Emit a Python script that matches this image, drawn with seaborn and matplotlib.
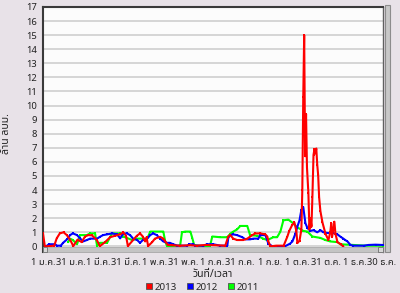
import matplotlib
matplotlib.use("Agg")
import numpy as np
import pandas as pd
import seaborn as sns
import matplotlib.pyplot as plt
from matplotlib.lines import Line2D
from matplotlib.patches import Rectangle
from matplotlib import font_manager

# ---------------- data (day of year, value in million m3) ----------------
days_2013 = [0, 2, 7.5, 12, 14.7, 18, 22, 25.5, 29, 32.5, 37, 41.5, 45, 48.6, 52.6, 57.7, 61,
             66.5, 72, 77, 82.7, 86, 89, 91, 96.6, 100.6, 104, 107, 109.5, 111, 112.7, 117,
             120, 125.6, 129, 131, 134, 138.5, 147, 158, 165, 174, 184.7, 195.4, 198.6, 200.8,
             204, 208, 214.7, 219, 224.4, 227.6, 233, 238.4, 240.5, 241.6, 243.7, 250, 258,
             262, 264, 267, 269.5, 271.6, 272.7, 275, 277, 278, 279, 280, 281, 282, 283,
             284.5, 285.6, 286.7, 287.8, 288.8, 290, 291, 292, 293, 294, 295, 296, 297.4,
             299.6, 302.8, 306, 308, 309, 310, 312.4, 313.5, 315.7, 319, 322]
vals_2013 = [0.92, 0.0, 0.02, 0.05, 0.57, 0.92, 1.0, 0.8, 0.48, 0.02, 0.48, 0.3, 0.7, 0.8, 0.78,
             0.45, 0.02, 0.3, 0.65, 0.75, 0.85, 1.0, 0.75, 0.02, 0.45, 0.75, 0.92, 0.7, 0.35,
             0.65, 0.02, 0.3, 0.55, 0.68, 0.55, 0.35, 0.1, 0.08, 0.05, 0.08, 0.05, 0.1, 0.08,
             0.05, 0.7, 0.8, 0.55, 0.45, 0.45, 0.55, 0.8, 0.92, 0.92, 0.85, 0.7, 0.35, 0.0,
             0.05, 0.05, 0.7, 1.1, 1.5, 1.7, 1.1, 0.23, 0.4, 1.2, 4.0, 10.6, 15.0, 6.4, 9.4,
             5.6, 3.8, 1.2, 2.0, 1.4, 3.5, 6.5, 6.9, 6.6, 6.95, 5.8, 5.05, 3.5, 2.5, 1.7, 0.9,
             0.45, 1.0, 1.65, 0.7, 1.75, 0.9, 0.3, 0.15, 0.0]

days_2012 = [4.3, 6.4, 13, 15, 19, 21.5, 25.8, 29, 32, 36.5, 39.7, 43, 47, 50.5, 58, 61, 64.4,
             68.7, 74, 79.5, 82.7, 86, 90, 93.4, 96.6, 101, 104, 107, 111.7, 115, 118, 122,
             125.6, 129, 133, 136, 139.6, 144, 154.6, 156.8, 161, 163, 171.8, 176, 182.5, 190,
             197.6, 198.6, 200.8, 204, 208, 213.7, 216.9, 222, 225.5, 230.8, 233, 238.4, 241.6,
             245.9, 259.8, 265, 267.4, 270.6, 272.7, 275, 277, 279, 281.3, 283.5, 286.7, 290,
             294, 297.4, 300.6, 305, 311, 315.7, 319, 322, 324, 326.4, 329.6, 332.8, 343.6,
             349, 356.5, 364]
vals_2012 = [0.05, 0.15, 0.15, 0.05, 0.05, 0.25, 0.5, 0.8, 0.92, 0.8, 0.57, 0.35, 0.45, 0.55,
             0.55, 0.68, 0.8, 0.85, 0.92, 0.85, 0.57, 0.9, 0.92, 0.8, 0.55, 0.45, 0.25, 0.45,
             0.55, 0.8, 0.92, 0.8, 0.55, 0.35, 0.25, 0.25, 0.15, 0.05, 0.05, 0.15, 0.15, 0.05,
             0.05, 0.15, 0.15, 0.05, 0.05, 0.6, 0.8, 0.85, 0.8, 0.65, 0.5, 0.5, 0.55, 0.55, 0.8,
             0.8, 0.2, 0.0, 0.02, 0.2, 0.35, 0.9, 1.4, 1.85, 2.6, 2.8, 1.65, 1.3, 1.1, 1.15,
             1.0, 1.15, 1.0, 0.95, 0.95, 0.85, 0.68, 0.55, 0.45, 0.35, 0.1, 0.05, 0.05, 0.1,
             0.12, 0.1]

days_2011 = [27, 29, 32, 36.5, 39.7, 47, 50.5, 55.8, 58, 61, 68.7, 74, 82.7, 86, 95.6, 101,
             111.7, 115, 129, 131, 133, 147, 149, 152.5, 158, 160, 162, 168.6, 179, 181.5, 190,
             197.6, 200.8, 204, 208, 211.5, 219, 222, 229.8, 236, 240.5, 247, 251, 254.5,
             257.7, 263, 268, 272.7, 279, 283.5, 288.8, 297.4, 302.8, 308, 315.7, 319, 332.8,
             345.7, 364]
vals_2011 = [0.3, 0.55, 0.45, 0.15, 0.8, 0.8, 0.92, 0.92, 0.02, 0.25, 0.25, 0.92, 0.92, 0.7,
             0.45, 0.55, 0.55, 1.05, 1.05, 0.35, 0.02, 0.05, 1.0, 1.05, 1.05, 0.6, 0.1, 0.02,
             0.02, 0.7, 0.65, 0.65, 0.9, 1.05, 1.2, 1.45, 1.45, 0.8, 0.75, 0.55, 0.45, 0.65,
             0.65, 1.05, 1.85, 1.9, 1.65, 1.35, 1.1, 1.05, 0.7, 0.6, 0.45, 0.35, 0.3, 0.15, 0.1,
             0.05, 0.05]

series_names = ["2013", "2012", "2011"]
series_colors = ["#ff0000", "#0000ff", "#00ff00"]
tick_days = [0, 30, 59, 89, 120, 150, 181, 211, 243, 273, 303, 334, 363]
tick_labels = ["1 ม.ค.", "31 ม.ค.", "1 มี.ค.", "31 มี.ค.", "1 พ.ค.", "31 พ.ค.", "1 ก.ค.",
               "31 ก.ค.", "1 ก.ย.", "1 ต.ค.", "31 ต.ค.", "1 ธ.ค.", "30 ธ.ค."]
y_ticks = list(range(0, 18))
x_title = "วันที่/เวลา"
y_title = "ล้าน ลบม."

# ---------------- font with Thai glyphs ----------------
def find_thai_family():
    try:
        from fontTools.ttLib import TTFont
    except Exception:
        return None
    cands = []
    for f in font_manager.fontManager.ttflist:
        try:
            tt = TTFont(f.fname, fontNumber=0, lazy=True)
            cmap = tt.getBestCmap() or {}
            if 0x0E25 in cmap and 0x0E19 in cmap and 0x0E49 in cmap:
                cands.append(f.name)
        except Exception:
            pass
    for pref in ["DejaVu Sans", "Noto Sans Thai", "Noto Sans", "Tahoma"]:
        if pref in cands:
            return pref
    return cands[0] if cands else None

sns.set_theme(style="white")
thai = find_thai_family()
fams = [thai, "DejaVu Sans"] if thai and thai != "DejaVu Sans" else ["DejaVu Sans"]
plt.rcParams["font.family"] = fams

# ---------------- data frame ----------------
frames = []
for name, d, v in [("2011", days_2011, vals_2011), ("2012", days_2012, vals_2012),
                   ("2013", days_2013, vals_2013)]:
    frames.append(pd.DataFrame({"day": d, "value": v, "year": name}))
df = pd.concat(frames, ignore_index=True)
palette = dict(zip(series_names, series_colors))

# ---------------- figure ----------------
W, H = 400, 293
bg = "#e8e2e8"
fig = plt.figure(figsize=(W / 100, H / 100), dpi=100, facecolor=bg)
ax = fig.add_axes([43 / W, 1 - 252 / H, 340 / W, (252 - 7) / H])
ax.set_facecolor("#fcfcfc")

y_top = 17.0
y_bot = -0.40
ax.set_ylim(y_bot, y_top)
ax.set_xlim(0, 364.5)

for yv in range(0, 17):
    ax.axhline(yv, color="#d2d2d2", lw=1.3, zorder=0)

sns.lineplot(data=df, x="day", y="value", hue="year", hue_order=["2011", "2012", "2013"],
             palette=palette, estimator=None, sort=False, legend=False, ax=ax,
             linewidth=1.5, marker="s", markersize=1.8, markeredgewidth=0, zorder=3)

# bottom scroll bar
ax.add_patch(Rectangle((0, y_bot), 1, 0.36, transform=ax.get_yaxis_transform(),
                       facecolor="#c4c4c4", edgecolor="#a8a8a8", lw=0.6, zorder=4,
                       clip_on=False))
ax.add_patch(Rectangle((0, y_bot), 0.012, 0.36, transform=ax.get_yaxis_transform(),
                       facecolor="#d8d8d8", edgecolor="#707070", lw=0.6, zorder=5,
                       clip_on=False))
ax.add_patch(Rectangle((0.985, y_bot), 0.015, 0.36, transform=ax.get_yaxis_transform(),
                       facecolor="#d8d8d8", edgecolor="#707070", lw=0.6, zorder=5,
                       clip_on=False))
# right vertical bar
fig.patches.append(Rectangle((385 / W, 1 - 252 / H), 5 / W, (252 - 5) / H,
                             transform=fig.transFigure, facecolor="#c8c8c8",
                             edgecolor="#8c8c8c", lw=0.8))

ax.set_yticks(y_ticks)
ax.set_xticks(tick_days)
ax.set_xticklabels(tick_labels)
ax.tick_params(axis="both", labelsize=6.8, colors="#222222", length=3, width=0.8,
               direction="out", pad=1.5)
ax.tick_params(axis="x", pad=1.0)
for s in ["left", "top"]:
    ax.spines[s].set_color("#3a3a3a")
    ax.spines[s].set_linewidth(1.5)
ax.spines["right"].set_color("#606060")
ax.spines["right"].set_linewidth(1.0)
ax.spines["bottom"].set_visible(False)

ax.set_xlabel(x_title, fontsize=7.5, fontweight="bold", color="#222222", labelpad=2)
ax.set_ylabel(y_title, fontsize=7.5, fontweight="bold", color="#222222")
ax.yaxis.set_label_coords((12 - 43) / 340, 1 - (134 - 7) / 245)

handles = [Line2D([], [], linestyle="", marker="s", markersize=4.5, markerfacecolor=c,
                  markeredgecolor="#505050", markeredgewidth=0.6) for c in series_colors]
fig.legend(handles, series_names, loc="center", bbox_to_anchor=(202 / W, 1 - 287 / H),
           ncol=3, frameon=False, fontsize=7, handletextpad=0.2, columnspacing=0.9,
           handlelength=0.8, borderaxespad=0, borderpad=0)

fig.savefig("out.png", dpi=100, facecolor=bg)
